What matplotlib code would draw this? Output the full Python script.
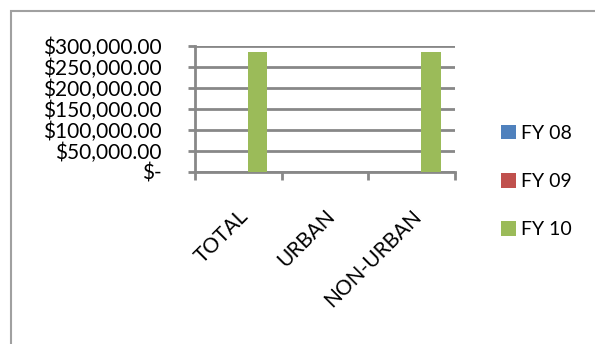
import numpy as np
import matplotlib.pyplot as plt
from matplotlib.patches import Rectangle

categories = ['TOTAL', 'URBAN', 'NON-URBAN']
series_names = ['FY 08', 'FY 09', 'FY 10']
fy08 = [0, 0, 0]
fy09 = [0, 0, 0]
fy10 = [285000, 0, 285000]
colors = ['#4f81bd', '#c0504d', '#9bbb59']
ytick_labels = ['$-', '$50,000.00', '$100,000.00', '$150,000.00',
                '$200,000.00', '$250,000.00', '$300,000.00']

plt.rcParams['font.family'] = ['Lato', 'DejaVu Sans']
grid_col = '#888888'

fig = plt.figure(figsize=(5.95, 3.44), dpi=100)
# outer chart frame
fig.patches.append(Rectangle((11/595, -0.05), 1.2, 1 - 11/344 + 0.05,
                             transform=fig.transFigure, fill=False,
                             edgecolor='#a0a0a0', linewidth=1.5))

ax = fig.add_axes([195/595, 1 - 171.7/344, 260/595, 126/344])
x = np.arange(len(categories))
w = 1 / 4.5
for i, (vals, name) in enumerate(zip([fy08, fy09, fy10], series_names)):
    ax.bar(x + (i - 1) * w, vals, w, color=colors[i], label=name, zorder=3)

ax.set_xlim(-0.5, 2.5)
ax.set_ylim(0, 300000)
ax.set_yticks(np.arange(0, 300001, 50000))
ax.set_yticklabels(ytick_labels, fontsize=15)
ax.yaxis.grid(True, color=grid_col, linewidth=2)
ax.set_axisbelow(True)

ax.set_xticks([-0.5, 0.5, 1.5, 2.5])
ax.set_xticklabels([])
ax.set_xticks(x, minor=True)
ax.set_xticklabels(categories, minor=True, rotation=45, ha='right', va='top',
                   rotation_mode='anchor', fontsize=15)
ax.tick_params(axis='x', which='minor', length=0, pad=25)
ax.tick_params(axis='x', which='major', length=6, width=2, color=grid_col)
ax.tick_params(axis='y', length=5, width=2, color=grid_col, pad=19)

for s in ['top', 'right']:
    ax.spines[s].set_visible(False)
for s in ['left', 'bottom']:
    ax.spines[s].set_color(grid_col)
    ax.spines[s].set_linewidth(2)

leg = fig.legend(loc='upper left', bbox_to_anchor=(483/595, 1 - 107/344),
                 frameon=False, fontsize=14, handlelength=0.8,
                 handleheight=0.8, handletextpad=0.25, labelspacing=1.6)

plt.savefig('out.png', dpi=100)
